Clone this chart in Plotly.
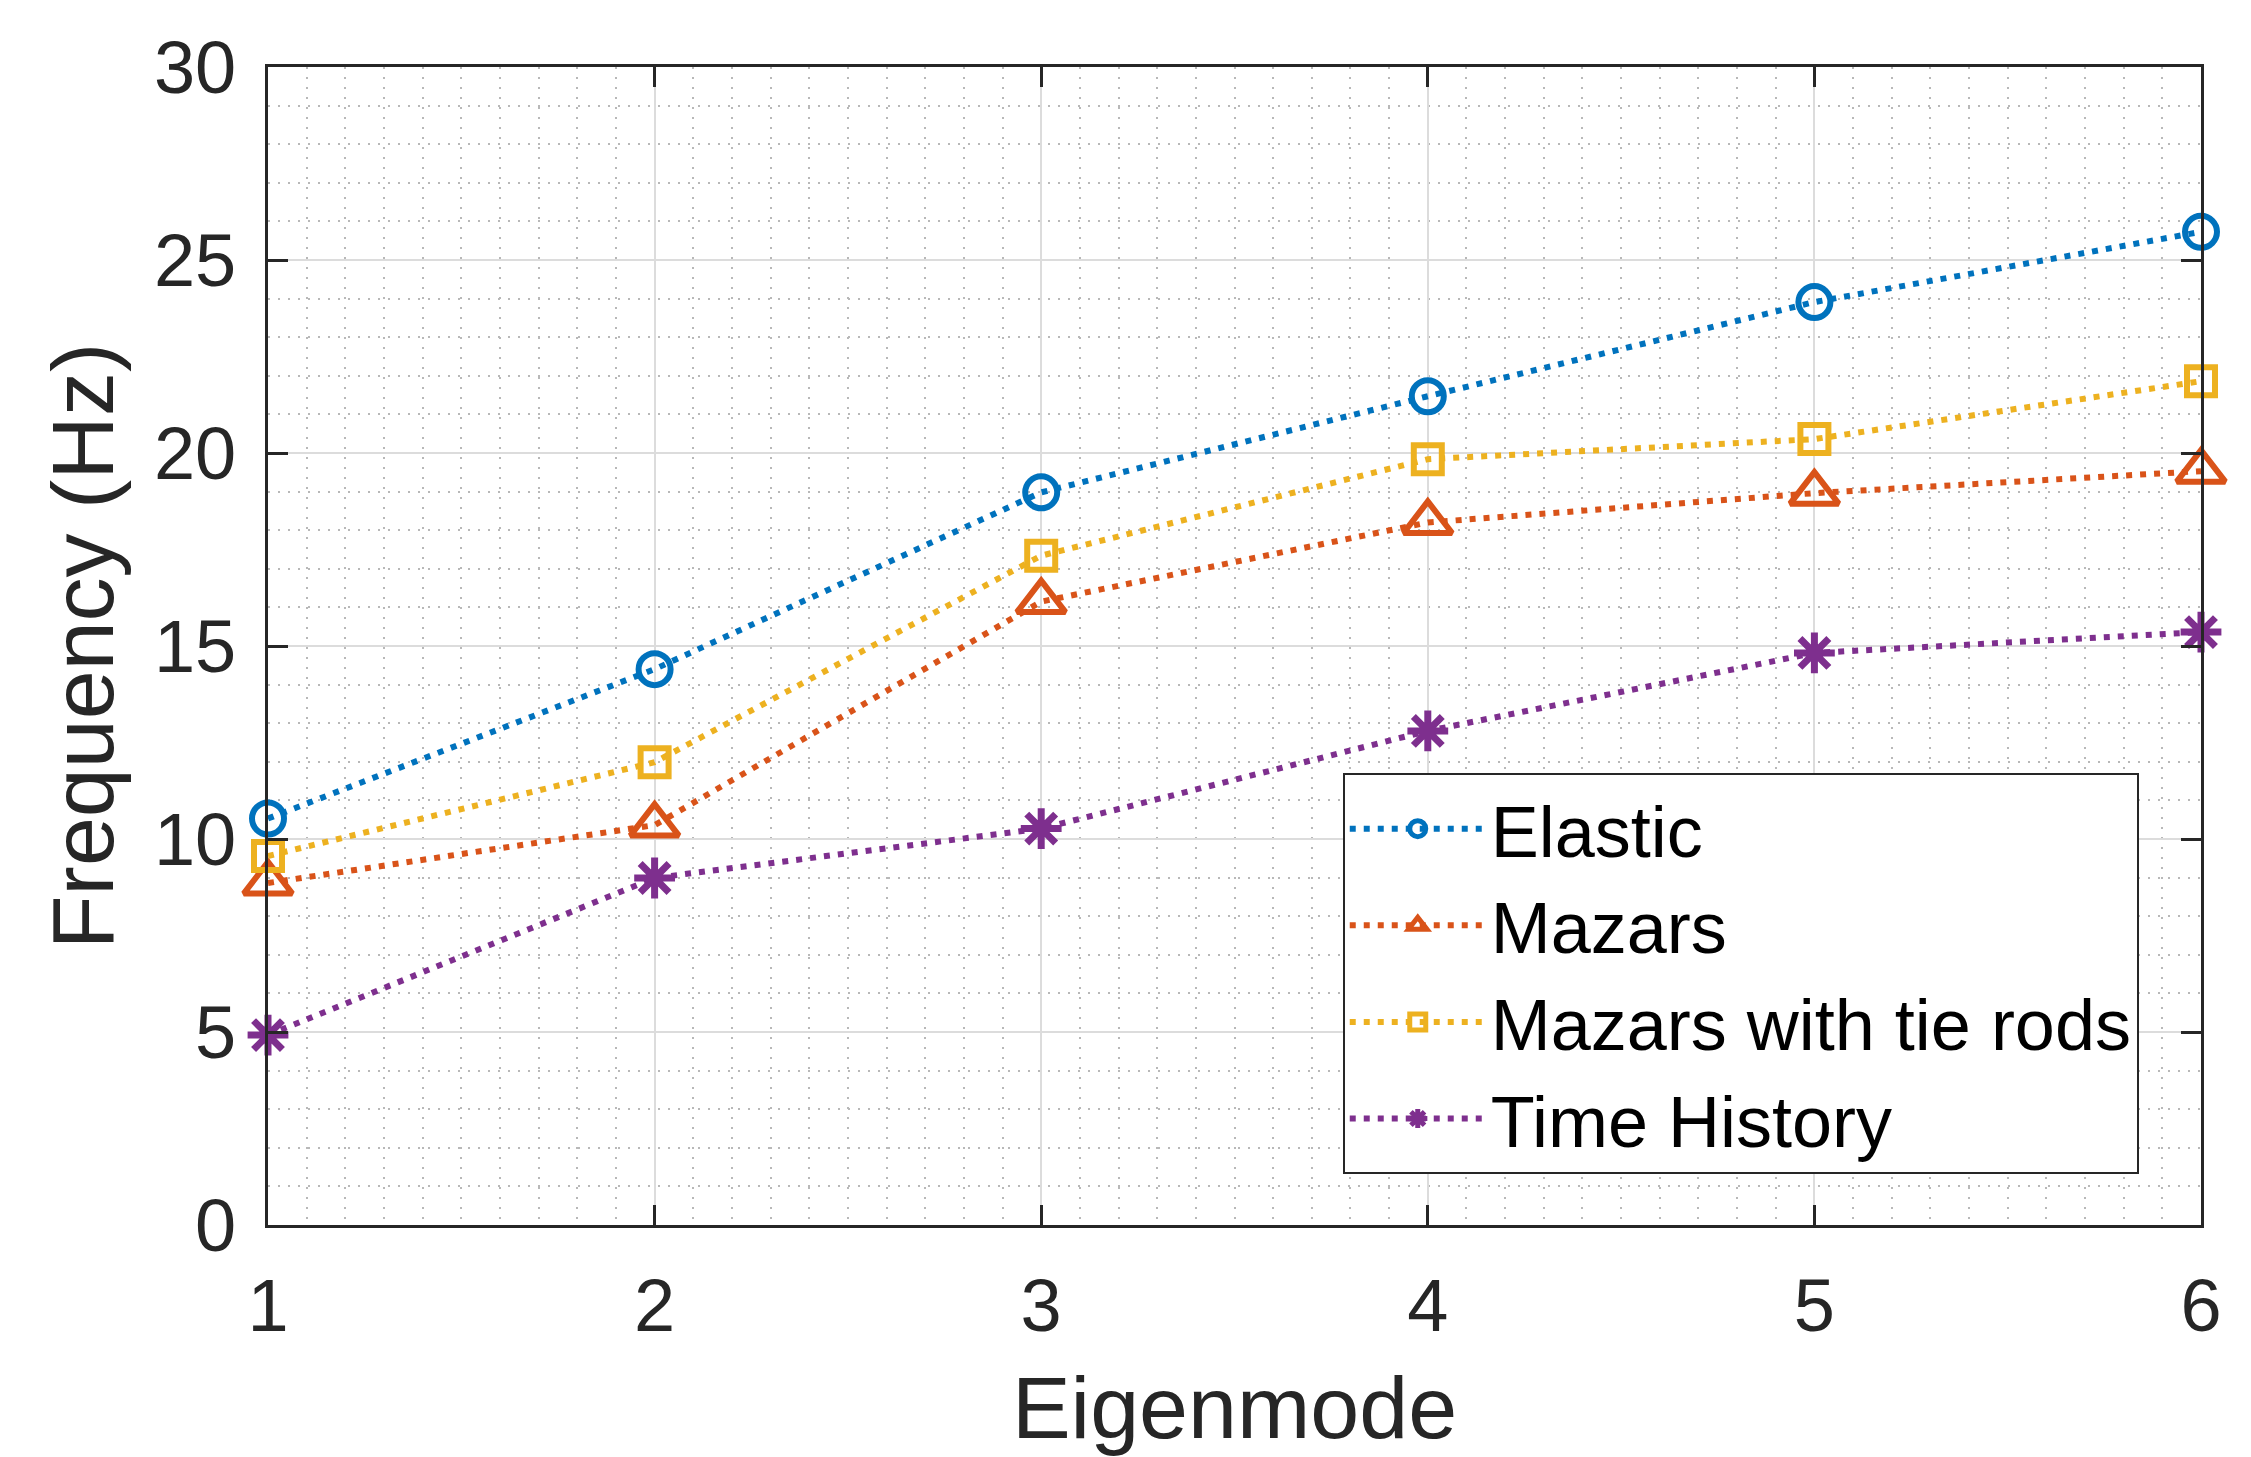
import plotly.graph_objects as go

modes = [1, 2, 3, 4, 5, 6]
elastic = [10.53, 14.40, 18.98, 21.47, 23.91, 25.73]
mazars = [8.86, 10.36, 16.15, 18.20, 18.96, 19.53]
mazars_tie = [9.56, 11.99, 17.34, 19.84, 20.36, 21.86]
time_history = [4.92, 8.99, 10.27, 12.80, 14.82, 15.36]

names = ["Elastic", "Mazars", "Mazars with tie rods", "Time History"]
colors = ["#0072BD", "#D95319", "#EDB120", "#7E2F8E"]
symbols = ["circle-open", "triangle-up-open", "square-open", "asterisk-open"]
sizes = [32, 42, 28, 34]
mlw = [6, 6, 6, 7]
series = [elastic, mazars, mazars_tie, time_history]

FONT = "Liberation Sans, Arial"

fig = go.Figure()
for name, ys, c, s, sz, lw in zip(names, series, colors, symbols, sizes, mlw):
    fig.add_trace(go.Scatter(
        x=modes, y=ys, name=name, mode="lines+markers",
        line=dict(color=c, width=6, dash="6px,8px"),
        marker=dict(symbol=s, size=sz, color=c, line=dict(color=c, width=lw)),
        cliponaxis=False,
    ))

axis_common = dict(
    showline=True, linecolor="#262626", linewidth=3, mirror="ticks",
    ticks="inside", ticklen=20, tickwidth=3, tickcolor="#262626",
    showgrid=True, gridcolor="#dcdcdc", gridwidth=2,
    zeroline=False,
    tickfont=dict(family=FONT, size=74, color="#262626"),
)

fig.update_xaxes(
    range=[1, 6], dtick=1, tick0=1, ticklabelstandoff=14,
    title=dict(text="Eigenmode", font=dict(family=FONT, size=88, color="#262626"), standoff=38),
    minor=dict(dtick=0.1, showgrid=True, gridcolor="#b8b8b8", gridwidth=2, griddash="2px,8px", ticks=""),
    **axis_common,
)
fig.update_yaxes(
    range=[0, 30], dtick=5, ticklabelstandoff=14,
    title=dict(text="Frequency (Hz)", font=dict(family=FONT, size=88, color="#262626"), standoff=12),
    minor=dict(dtick=1, showgrid=True, gridcolor="#b8b8b8", gridwidth=2, griddash="2px,8px", ticks=""),
    **axis_common,
)

fig.update_layout(
    width=2251, height=1457,
    margin=dict(l=268, r=50, t=67, b=232),
    plot_bgcolor="white", paper_bgcolor="white",
    showlegend=True,
    legend=dict(
        x=0.556, y=0.39, xanchor="left", yanchor="top",
        bgcolor="white", bordercolor="#262626", borderwidth=2,
        font=dict(family=FONT, size=72, color="black"),
        itemsizing="trace", itemwidth=136, tracegroupgap=0,
    ),
)

fig.write_html("out.html")
